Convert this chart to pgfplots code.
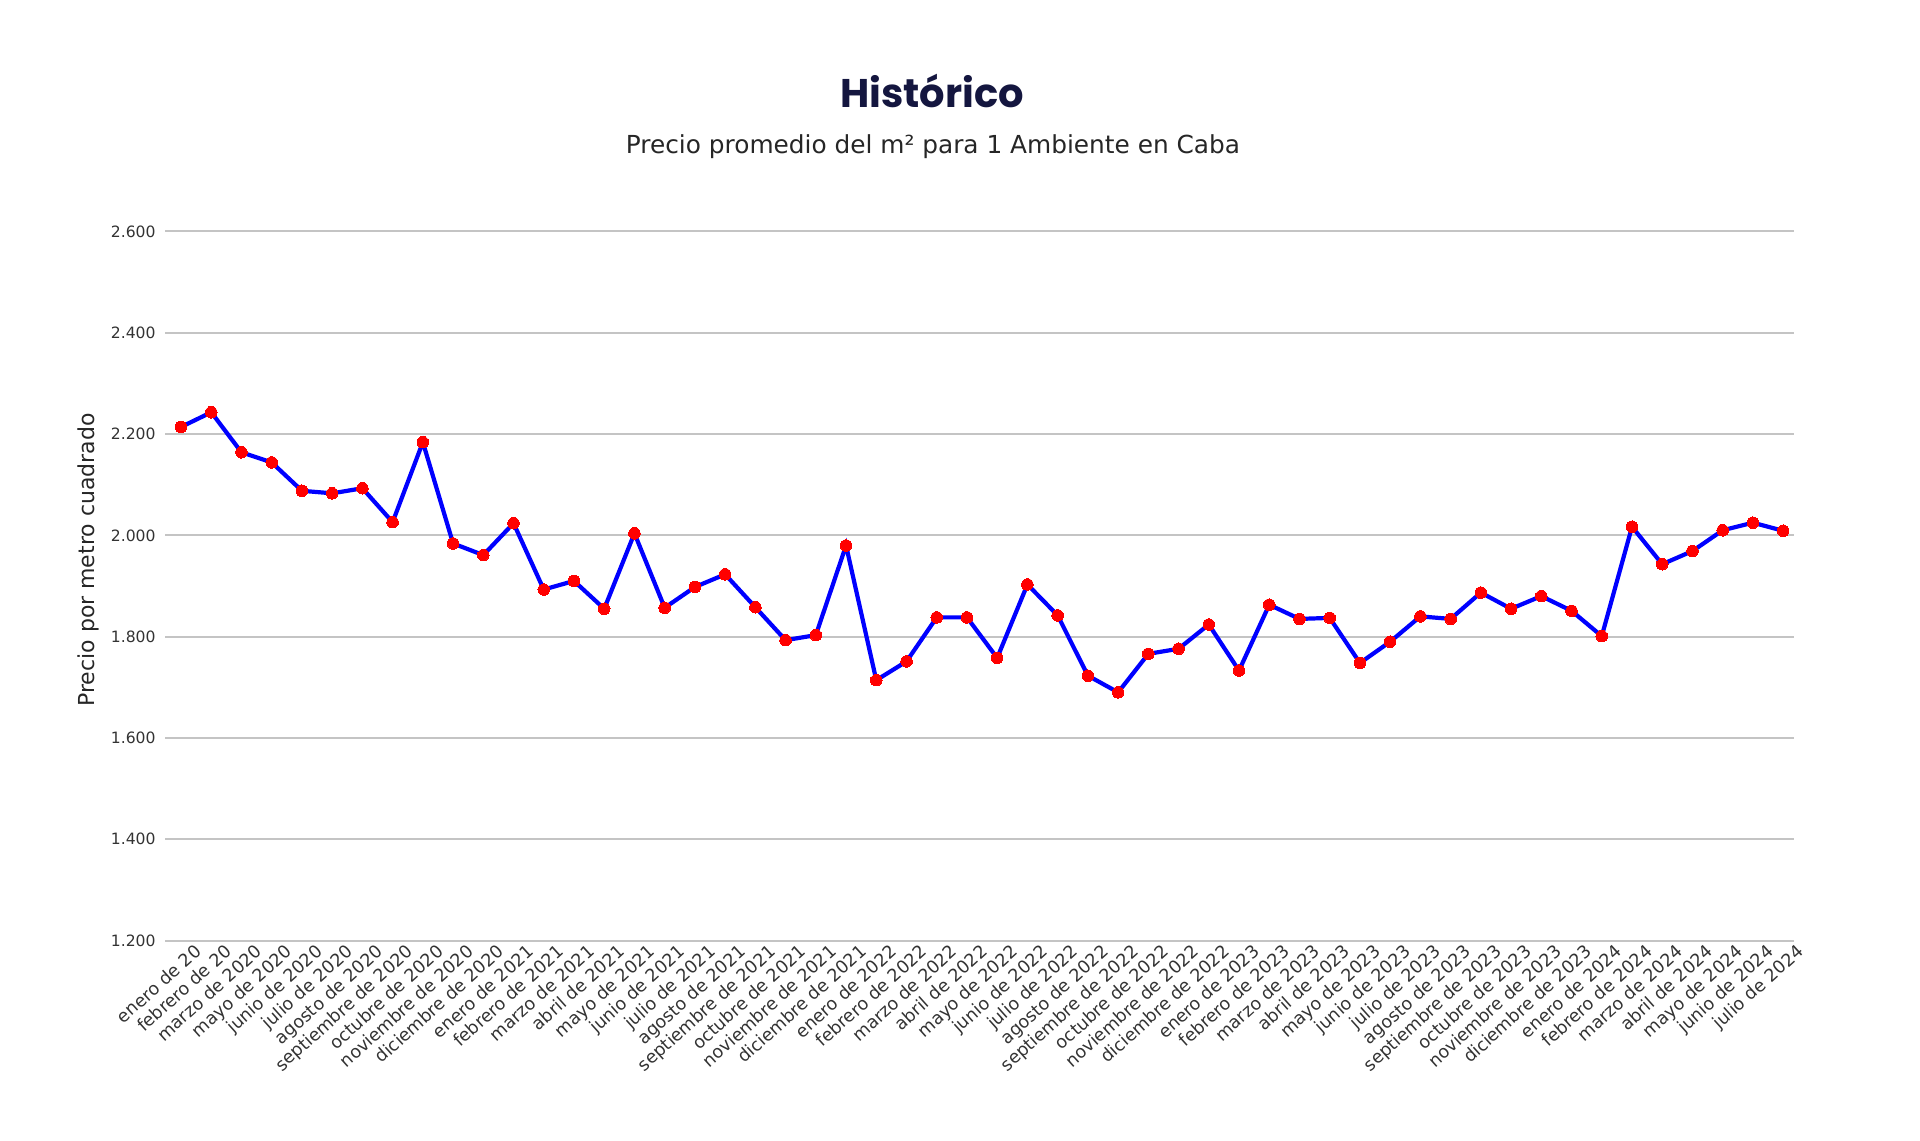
\documentclass[border=0pt]{standalone}
\usepackage{fontspec}
\setmainfont{DejaVu Sans}
\newfontfamily\titlefont{Poppins}
\newfontfamily\subfont{DejaVu Sans}
\usepackage{pgfplots}
\pgfplotsset{compat=1.18}
\definecolor{navy}{HTML}{14163F}
\definecolor{tickgray}{HTML}{333333}
\definecolor{gridgray}{HTML}{C4C4C4}
\begin{document}
\begin{tikzpicture}
\begin{axis}[
  width=814.5pt, height=354.5pt, scale only axis,
  xmin=-0.53, xmax=53.36,
  ymin=1200, ymax=2600,
  ytick={1200,1400,...,2600},
  xtick={0,...,53},
  xticklabels={enero de 20,febrero de 20,marzo de 2020,mayo de 2020,junio de 2020,julio de 2020,agosto de 2020,septiembre de 2020,octubre de 2020,noviembre de 2020,diciembre de 2020,enero de 2021,febrero de 2021,marzo de 2021,abril de 2021,mayo de 2021,junio de 2021,julio de 2021,agosto de 2021,septiembre de 2021,octubre de 2021,noviembre de 2021,diciembre de 2021,enero de 2022,febrero de 2022,marzo de 2022,abril de 2022,mayo de 2022,junio de 2022,julio de 2022,agosto de 2022,septiembre de 2022,octubre de 2022,noviembre de 2022,diciembre de 2022,enero de 2023,febrero de 2023,marzo de 2023,abril de 2023,mayo de 2023,junio de 2023,julio de 2023,agosto de 2023,septiembre de 2023,octubre de 2023,noviembre de 2023,diciembre de 2023,enero de 2024,febrero de 2024,marzo de 2024,abril de 2024,mayo de 2024,junio de 2024,julio de 2024},
  xticklabel style={rotate=42, anchor=north east, inner sep=0pt, xshift=4pt, yshift=-5pt, font=\fontsize{8.8}{9}\selectfont, text=tickgray},
  yticklabel style={anchor=east, inner sep=0pt, xshift=-4.5pt, font=\fontsize{7.8}{8}\selectfont, text=tickgray},
  /pgf/number format/assume math mode=true,
  /pgf/number format/.cd, 1000 sep={.}, /pgfplots/.cd,
  ymajorgrids,
  major grid style={gridgray, line width=1pt},
  axis line style={draw=none},
  major tick length=0pt,
  tick style={draw=none},
  clip=false,
]
\addplot[color=blue, line width=2.1pt, mark=*, mark size=2.9pt, mark options={fill=red, draw=red, line width=0pt}] coordinates {
(0,2214) (1,2243) (2,2164) (3,2144) (4,2088) (5,2083) (6,2093) (7,2026) (8,2184) (9,1984)
(10,1961) (11,2024) (12,1893) (13,1910) (14,1855) (15,2004) (16,1857) (17,1898) (18,1923) (19,1858)
(20,1793) (21,1803) (22,1980) (23,1714) (24,1751) (25,1838) (26,1838) (27,1758) (28,1903) (29,1842)
(30,1723) (31,1690) (32,1766) (33,1776) (34,1824) (35,1733) (36,1863) (37,1835) (38,1837) (39,1748)
(40,1790) (41,1840) (42,1835) (43,1887) (44,1855) (45,1880) (46,1851) (47,1801) (48,2017) (49,1943)
(50,1969) (51,2010) (52,2025) (53,2009)
};
\coordinate (SW) at (rel axis cs:0,0);
\end{axis}
\coordinate (O) at ([shift={(-82.5pt,-99.75pt)}]SW);
\pgfresetboundingbox
\path[use as bounding box] (O) rectangle ([shift={(960pt,570pt)}]O);
\node[font=\titlefont\bfseries\fontsize{20}{24}\selectfont, text=navy] at ([shift={(466pt,524.7pt)}]O) {Histórico};
\node[font=\subfont\fontsize{12.4}{14}\selectfont, text=black!85] at ([shift={(466.5pt,496.5pt)}]O) {Precio promedio del m² para 1 Ambiente en Caba};
\node[font=\subfont\fontsize{11}{13}\selectfont, text=black!85, rotate=90] at ([shift={(44pt,290pt)}]O) {Precio por metro cuadrado};
\end{tikzpicture}
\end{document}
